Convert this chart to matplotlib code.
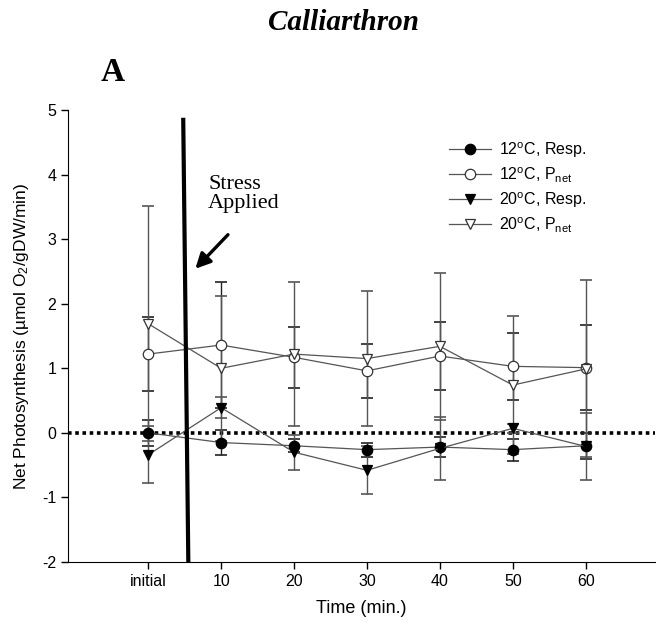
import matplotlib
matplotlib.use("Agg")
import matplotlib.pyplot as plt

plt.rcParams['font.family'] = ['Liberation Sans', 'DejaVu Sans']
plt.rcParams['mathtext.fontset'] = 'custom'
plt.rcParams['mathtext.rm'] = 'Liberation Sans'
plt.rcParams['mathtext.it'] = 'Liberation Sans:italic'
plt.rcParams['axes.unicode_minus'] = False

categories = ["initial", "10", "20", "30", "40", "50", "60"]
resp12 = [0.00, -0.15, -0.20, -0.26, -0.22, -0.26, -0.20]
resp12_err = [0.20, 0.20, 0.10, 0.11, 0.16, 0.17, 0.20]
pnet12 = [1.22, 1.36, 1.17, 0.96, 1.19, 1.03, 1.01]
pnet12_err = [0.57, 0.98, 0.47, 0.42, 0.53, 0.52, 0.66]
resp20 = [-0.34, 0.39, -0.30, -0.58, -0.24, 0.07, -0.21]
resp20_err = [0.44, 0.16, 0.27, 0.37, 0.49, 0.07, 0.52]
pnet20 = [1.69, 1.00, 1.22, 1.15, 1.34, 0.74, 0.99]
pnet20_err = [1.82, 1.12, 1.11, 1.04, 1.14, 1.07, 1.37]

x = list(range(len(categories)))

fig = plt.figure(figsize=(6.56, 6.31), dpi=100)
ax = fig.add_axes([68/656, 69/631, (655-68)/656, (562-110)/631])

series = [
    (resp12, resp12_err, dict(marker='o', mfc='black', mec='black'), "12$^\\mathrm{o}$C, Resp.", '#222222'),
    (pnet12, pnet12_err, dict(marker='o', mfc='white', mec='#333333'), "12$^\\mathrm{o}$C, P$_\\mathrm{net}$", '#222222'),
    (resp20, resp20_err, dict(marker='v', mfc='black', mec='black'), "20$^\\mathrm{o}$C, Resp.", '#555555'),
    (pnet20, pnet20_err, dict(marker='v', mfc='white', mec='#333333'), "20$^\\mathrm{o}$C, P$_\\mathrm{net}$", '#555555'),
]

ax.axhline(0, color='black', lw=2.6, ls=(0, (1, 1)), zorder=2)

for vals, errs, mk, lab, ecol in series:
    ax.errorbar(x, vals, yerr=errs, fmt='none', ecolor=ecol, elinewidth=1.0,
                capsize=4.3, capthick=1.2, zorder=3)
    ax.plot(x, vals, color='#555555', lw=0.9, ms=7.5, mew=0.9, label=lab, zorder=4, **mk)

# stress line
ax.plot([0.48, 0.55], [4.88, -2.0], color='black', lw=3.0, zorder=5, solid_capstyle='butt')
ax.annotate("", xy=(0.62, 2.51), xytext=(1.12, 3.10),
            arrowprops=dict(arrowstyle='-|>,head_length=0.9,head_width=0.45', color='black', lw=2.4))
ax.text(0.82, 4.0, "Stress\nApplied", family='Liberation Serif', fontsize=16,
        ha='left', va='top', linespacing=1.05)

ax.set_xlim(-1.1, 6.95)
ax.set_ylim(-2, 5)
ax.set_xticks(x)
ax.set_xticklabels(categories)
ax.set_yticks(range(-2, 6))
ax.tick_params(axis='both', direction='out', length=5, width=1, labelsize=11.5)
ax.spines['top'].set_visible(False)
ax.spines['right'].set_visible(False)
ax.set_xlabel("Time (min.)", fontsize=13, labelpad=8)
ax.set_ylabel("Net Photosynthesis (µmol O$_2$/gDW/min)", fontsize=12.5, labelpad=8)

leg = ax.legend(loc='upper left', bbox_to_anchor=(0.625, 0.965), frameon=False,
                fontsize=11.5, handlelength=2.6, labelspacing=0.35, handletextpad=0.5)

fig.text(0.523, 0.965, "Calliarthron", family='Liberation Serif', fontsize=21,
         fontweight='bold', fontstyle='italic', ha='center', va='center')
fig.text(0.172, 0.885, "A", family='Liberation Serif', fontsize=24,
         fontweight='bold', ha='center', va='center')

fig.savefig("out.png", dpi=100)
